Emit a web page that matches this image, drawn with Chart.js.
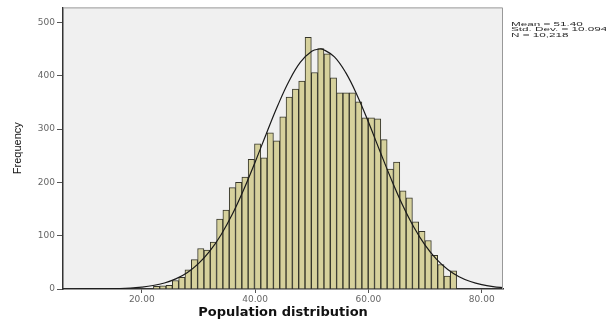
<!DOCTYPE html>
<html><head><meta charset="utf-8">
<script src="https://cdn.jsdelivr.net/npm/chart.js@4.4.1/dist/chart.umd.min.js"></script>
<style>html,body{margin:0;padding:0;background:#fff;}canvas{display:block;}</style>
</head><body>
<canvas id="c" width="606" height="322"></canvas>
<script>
// Histogram bins (centres) and frequencies
const binCenters = [22.61,23.72,24.84,25.95,27.07,28.18,29.30,30.41,31.53,32.64,
  33.76,34.87,35.99,37.10,38.22,39.33,40.45,41.56,42.68,43.79,
  44.91,46.02,47.14,48.25,49.37,50.48,51.60,52.71,53.83,54.94,
  56.06,57.17,58.29,59.40,60.52,61.63,62.75,63.86,64.98,66.09,
  67.21,68.32,69.44,70.55,71.67,72.78,73.90,75.01];
const frequencies = [5,6,7,16,22,36,55,76,73,88,
  131,148,190,200,210,243,272,246,293,278,
  323,360,375,390,472,406,451,441,396,368,
  368,368,351,321,321,319,280,225,238,184,
  171,126,108,91,63,46,24,34];
// Normal curve overlay
const curveX = [6,10,14,18,20,22,24,26,28,30,32,34,36,38,40,42,44,46,48,50,51.4,52,54,56,58,60,62,64,66,68,70,72,74,76,78,80,82,84];
const curveY = [0,0.1,0.5,1.9,3.6,6.5,11.3,19,30.6,47.6,71,101.8,140.5,186.5,237.8,291.7,344,390,425.2,445.7,450,449.2,435.3,405.6,363.4,313,259.3,206.5,158.1,116.4,82.4,56.1,36.7,23.1,14,8.1,4.5,2.4];
const xTickValues = [20, 40, 60, 80];
const yTickValues = [0, 100, 200, 300, 400, 500];
const statsLines = ['Mean = 51.40', 'Std. Dev. = 10.094', 'N = 10,218'];
const xTitle = 'Population distribution';
const yTitle = 'Frequency';

const decor = {
  id: 'decor',
  beforeDraw(chart) {
    const {ctx, chartArea: a} = chart;
    ctx.save();
    ctx.fillStyle = '#ffffff';
    ctx.fillRect(0, 0, chart.width, chart.height);
    ctx.fillStyle = '#f0f0f0';
    ctx.fillRect(a.left, a.top, a.right - a.left, a.bottom - a.top);
    ctx.restore();
  },
  afterDraw(chart) {
    const {ctx, chartArea: a} = chart;
    ctx.save();
    ctx.strokeStyle = '#999999';
    ctx.lineWidth = 1;
    ctx.beginPath();
    ctx.moveTo(a.left, a.top + 0.5);
    ctx.lineTo(a.right - 0.5, a.top + 0.5);
    ctx.lineTo(a.right - 0.5, a.bottom);
    ctx.stroke();
    ctx.fillStyle = '#2a2a2a';
    ctx.font = '6px "Liberation Sans", Arial, sans-serif';
    ctx.textBaseline = 'alphabetic';
    statsLines.forEach((t, i) => {
      ctx.save();
      ctx.translate(a.right + 8, a.top + 18.5 + i * 5.4);
      ctx.scale(1.95, 1);
      ctx.fillText(t, 0, 0);
      ctx.restore();
    });
    ctx.restore();
  }
};

new Chart(document.getElementById('c'), {
  type: 'bar',
  data: {
    datasets: [
      {
        type: 'line', label: 'Normal',
        data: curveX.map((x, i) => ({x: x, y: curveY[i]})),
        borderColor: '#1a1a1a', borderWidth: 1.2, pointRadius: 0,
        tension: 0.4, fill: false, order: 0
      },
      {
        type: 'bar', label: yTitle,
        data: binCenters.map((x, i) => ({x: x, y: frequencies[i]})),
        backgroundColor: '#d6d19c', borderColor: '#35352a', borderWidth: 1,
        barPercentage: 1, categoryPercentage: 1, order: 1
      }
    ]
  },
  options: {
    responsive: false, animation: false, devicePixelRatio: 1,
    layout: {padding: {left: 0, right: 103, top: 6, bottom: 0}},
    plugins: {legend: {display: false}, tooltip: {enabled: false}},
    scales: {
      x: {
        type: 'linear', min: 6.1, max: 83.75, offset: false,
        afterFit: s => { s.height = 33; },
        afterBuildTicks: s => { s.ticks = xTickValues.map(v => ({value: v})); },
        grid: {display: true, offset: false, drawOnChartArea: false, drawTicks: true, tickLength: 4, color: '#555'},
        border: {display: true, color: '#333', width: 1.5},
        ticks: {color: '#666', font: {family: 'DejaVu Sans', size: 9}, padding: 1, maxRotation: 0, autoSkip: false,
                callback: v => Number(v).toFixed(2)},
        title: {display: true, text: xTitle, color: '#111',
                font: {family: 'DejaVu Sans', size: 13, weight: 'bold'}, padding: {top: 0, bottom: 2}}
      },
      y: {
        type: 'linear', min: 0, max: 528,
        afterFit: s => { s.width = 63; },
        afterBuildTicks: s => { s.ticks = yTickValues.map(v => ({value: v})); },
        grid: {display: true, drawOnChartArea: false, drawTicks: true, tickLength: 6, color: '#555'},
        border: {display: true, color: '#333', width: 1.5},
        ticks: {color: '#666', font: {family: 'DejaVu Sans', size: 9}, padding: 2, callback: v => String(v)},
        title: {display: true, text: yTitle, color: '#111',
                font: {family: 'Liberation Sans', size: 11}, padding: {top: 11, bottom: 0}}
      }
    }
  },
  plugins: [decor]
});
</script>
</body></html>
